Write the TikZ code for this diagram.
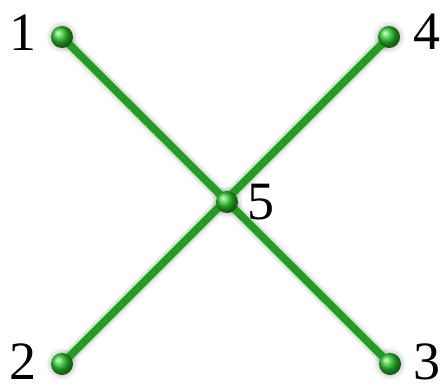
\documentclass[tikz,border=0pt]{standalone}
\usepackage{fontspec}
\setmainfont{Liberation Serif}
\definecolor{linegreen}{RGB}{32,158,32}
\definecolor{ballgreen}{RGB}{40,200,40}
\tikzset{
  edge/.style={draw=linegreen, line width=7.5pt},
  shadowedge/.style={draw=black, line cap=round},
  ball/.style={circle, inner sep=0pt, minimum size=22pt, ball color=ballgreen},
  lab/.style={font=\fontsize{54}{58}\selectfont, inner sep=0pt, text=black}
}
\begin{document}
\begin{tikzpicture}[x=1pt,y=-1pt]
\useasboundingbox (0,0) rectangle (444,391);
\coordinate (p1) at (62,37);
\coordinate (p4) at (389,37);
\coordinate (p5) at (227,202);
\coordinate (p2) at (62,364);
\coordinate (p3) at (390,364);
% soft shadows
\begin{scope}[shift={(-3,4)}]
\foreach \w/\o in {16/0.04,13/0.05,10/0.07,8/0.08}{
  \draw[shadowedge, line width=\w pt, opacity=\o] (p1) -- (p3);
  \draw[shadowedge, line width=\w pt, opacity=\o] (p2) -- (p4);
}
\foreach \p in {p1,p2,p3,p4,p5}{
  \foreach \r/\o in {16/0.04,14/0.06,12/0.08}{
    \fill[black, opacity=\o] (\p) circle (\r pt);
  }
}
\end{scope}
\draw[edge] (p1) -- (p3);
\draw[edge] (p2) -- (p4);
\node[ball] (n1) at (p1) {};
\node[ball] (n2) at (p2) {};
\node[ball] (n3) at (p3) {};
\node[ball] (n4) at (p4) {};
\node[ball] (n5) at (p5) {};
\node[lab] (l1) at (23,33) {1};
\node[lab] (l4) at (427,32) {4};
\node[lab] (l5) at (261,202) {5};
\node[lab] (l2) at (23,362) {2};
\node[lab] (l3) at (427,362) {3};
\end{tikzpicture}
\end{document}
